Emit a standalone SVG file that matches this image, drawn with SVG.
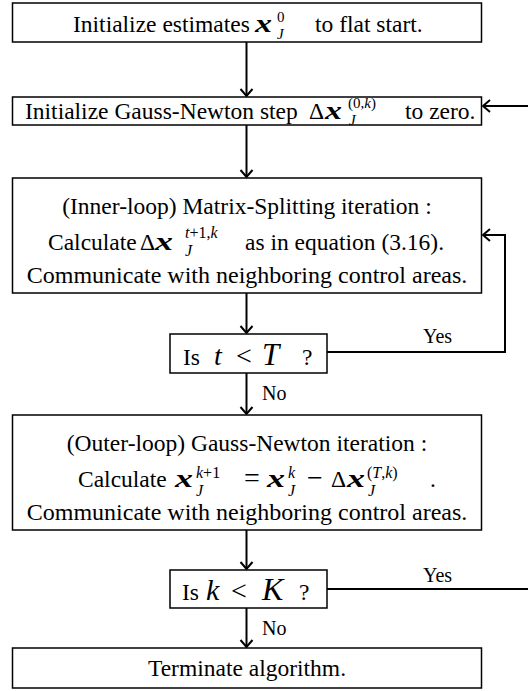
<svg xmlns="http://www.w3.org/2000/svg" width="528" height="691" viewBox="0 0 528 691">
<defs>
<style>
.box{fill:#fff;stroke:#000;stroke-width:1.5}
.t{font-family:"Liberation Serif","Times New Roman",serif;font-size:23.5px;fill:#000}
.w{font-size:24px}
.c{text-anchor:middle}
.m{font-style:italic}
.b{font-weight:bold;font-style:italic;font-size:26px}
.s{font-size:16px}
.s2{font-size:15px}
.op{font-size:28px}
.big{font-size:31px}
.lbl{font-size:20px}
.conn{fill:none;stroke:#000;stroke-width:2}
</style>
<marker id="arr" markerUnits="userSpaceOnUse" markerWidth="16" markerHeight="16" viewBox="-10 -8 12 16" refX="0" refY="0" orient="auto">
<path d="M-7,-6 L0,0 L-7,6" fill="none" stroke="#000" stroke-width="2"/>
</marker>
</defs>

<g id="connectors">
<path class="conn" d="M246.5,42 V96" marker-end="url(#arr)"/>
<path class="conn" d="M246.5,125 V177" marker-end="url(#arr)"/>
<path class="conn" d="M246.5,293 V333" marker-end="url(#arr)"/>
<path class="conn" d="M246.5,373 V414" marker-end="url(#arr)"/>
<path class="conn" d="M246.5,530 V569" marker-end="url(#arr)"/>
<path class="conn" d="M246.5,608 V647" marker-end="url(#arr)"/>
<path class="conn" d="M327,352 H505 V235 H483" marker-end="url(#arr)"/>
<path class="conn" d="M327,589 H530 V106 H483" marker-end="url(#arr)"/>
<text class="t lbl" x="423" y="343">Yes</text>
<text class="t lbl" x="262" y="400">No</text>
<text class="t lbl" x="423" y="582">Yes</text>
<text class="t lbl" x="262" y="635">No</text>
</g>

<g id="init-estimates">
<rect class="box" x="12.5" y="3" width="469" height="39"/>
<text class="t" x="73" y="32">Initialize estimates</text>
<text class="t b" x="255" y="32" textLength="17" lengthAdjust="spacingAndGlyphs">x</text>
<text class="t s2"><tspan x="277" y="22">0</tspan><tspan class="m" x="277" y="39">J</tspan></text>
<text class="t" x="315" y="32">to flat start.</text>
</g>

<g id="init-step">
<rect class="box" x="12.5" y="97" width="469" height="28"/>
<text class="t" x="25" y="119">Initialize Gauss-Newton step</text>
<text class="t" x="309" y="119">Δ</text>
<text class="t b" x="325" y="119" textLength="17" lengthAdjust="spacingAndGlyphs">x</text>
<text class="t s2"><tspan x="348" y="108">(0,<tspan class="m">k</tspan>)</tspan><tspan class="m" x="349" y="125">J</tspan></text>
<text class="t" x="405" y="119">to zero.</text>
</g>

<g id="inner-loop">
<rect class="box" x="12.5" y="178" width="469" height="115"/>
<text class="t c" x="247" y="214">(Inner-loop) Matrix-Splitting iteration :</text>
<text class="t" x="48" y="250">Calculate</text>
<text class="t" x="140" y="250">Δ</text>
<text class="t b" x="155" y="250" textLength="18" lengthAdjust="spacingAndGlyphs">x</text>
<text class="t s"><tspan x="185" y="238"><tspan class="m">t</tspan>+1,<tspan class="m">k</tspan></tspan><tspan class="m" x="185" y="256">J</tspan></text>
<text class="t" x="245" y="250">as in equation (3.16).</text>
<text class="t w c" x="247" y="283">Communicate with neighboring control areas.</text>
</g>

<g id="decision-t">
<rect class="box" x="170" y="334" width="157" height="39"/>
<text class="t" x="183" y="365">Is</text>
<text class="t m op" x="214" y="365">t</text>
<text class="t op" x="236" y="365">&lt;</text>
<text class="t m big" x="262" y="365">T</text>
<text class="t" x="302" y="365">?</text>
</g>

<g id="outer-loop">
<rect class="box" x="12.5" y="415" width="469" height="115"/>
<text class="t c" x="247" y="451">(Outer-loop) Gauss-Newton iteration :</text>
<text class="t" x="78" y="487">Calculate</text>
<text class="t b" x="175" y="487" textLength="18" lengthAdjust="spacingAndGlyphs">x</text>
<text class="t s"><tspan x="196" y="478"><tspan class="m">k</tspan>+1</tspan><tspan class="m" x="196" y="496">J</tspan></text>
<text class="t op" x="244" y="487">=</text>
<text class="t b" x="267" y="487" textLength="18" lengthAdjust="spacingAndGlyphs">x</text>
<text class="t s m"><tspan x="288" y="478">k</tspan><tspan x="288" y="496">J</tspan></text>
<text class="t op" x="307" y="487">−</text>
<text class="t" x="331" y="487">Δ</text>
<text class="t b" x="347" y="487" textLength="18" lengthAdjust="spacingAndGlyphs">x</text>
<text class="t s"><tspan x="367" y="478">(<tspan class="m">T</tspan>,<tspan class="m">k</tspan>)</tspan><tspan class="m" x="368" y="496">J</tspan></text>
<text class="t" x="430" y="487">.</text>
<text class="t w c" x="247" y="520">Communicate with neighboring control areas.</text>
</g>

<g id="decision-k">
<rect class="box" x="170" y="570" width="157" height="38"/>
<text class="t" x="182" y="600">Is</text>
<text class="t m" x="206" y="600" style="font-size:30px">k</text>
<text class="t op" x="231" y="600">&lt;</text>
<text class="t m" x="262" y="600" style="font-size:32px">K</text>
<text class="t" x="299" y="600">?</text>
</g>

<g id="terminate">
<rect class="box" x="12.5" y="648" width="469" height="40"/>
<text class="t c" x="247" y="676">Terminate algorithm.</text>
</g>
</svg>
